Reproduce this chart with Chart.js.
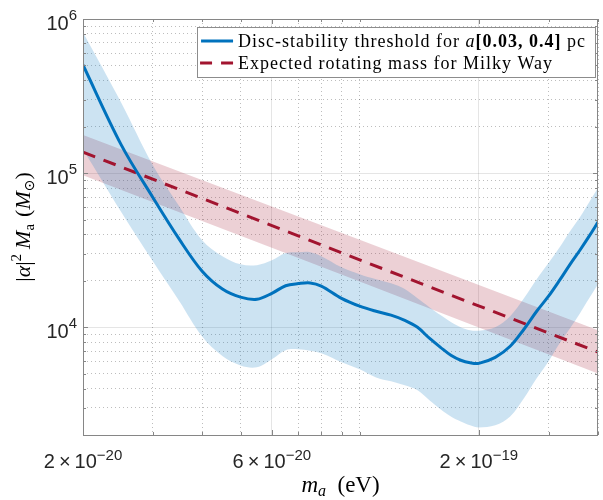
<!DOCTYPE html>
<html><head><meta charset="utf-8">
<script src="https://cdn.jsdelivr.net/npm/chart.js@4.4.1/dist/chart.umd.min.js"></script>
<style>html,body{margin:0;padding:0;background:#fff;}#wrap{width:603px;height:500px;}</style>
</head><body><div id="wrap"><canvas id="c" width="603" height="500"></canvas></div>
<script>
// axion mass m_a (eV)
const massEV = [2e-20,2.5e-20,3e-20,3.5e-20,4e-20,4.5e-20,5e-20,5.5e-20,6e-20,6.5e-20,7e-20,7.5e-20,8e-20,9e-20,1e-19,1.1e-19,1.2e-19,1.3e-19,1.4e-19,1.5e-19,1.6e-19,1.7e-19,1.8e-19,1.9e-19,2e-19,2.2e-19,2.4e-19,2.6e-19,2.8e-19,3e-19,3.2e-19,3.4e-19,3.6e-19,3.8e-19,4e-19];
// disc-stability threshold (solid blue) and its band
const thresholdMass = [5.03e5,1.52e5,6.98e4,3.73e4,2.31e4,1.77e4,1.57e4,1.52e4,1.66e4,1.86e4,1.92e4,1.94e4,1.85e4,1.54e4,1.37e4,1.27e4,1.20e4,1.11e4,1.0e4,8.49e3,7.41e3,6.58e3,6.11e3,5.88e3,5.83e3,6.38e3,7.53e3,9.71e3,1.27e4,1.59e4,2.02e4,2.56e4,3.16e4,3.90e4,4.81e4];
const thresholdUpper = [8.2e5,2.85e5,1.13e5,6.1e4,3.67e4,2.89e4,2.56e4,2.53e4,2.72e4,3.03e4,3.07e4,3.07e4,2.89e4,2.45e4,2.21e4,2.05e4,1.93e4,1.77e4,1.54e4,1.35e4,1.20e4,1.08e4,1.0e4,9.57e3,9.5e3,1.0e4,1.18e4,1.54e4,2.05e4,2.61e4,3.30e4,4.2e4,5.18e4,6.48e4,8.0e4];
const thresholdLower = [1.43e5,5.58e4,2.69e4,1.48e4,8.7e3,6.5e3,5.65e3,5.5e3,6.2e3,7.1e3,7.2e3,7.05e3,6.78e3,5.93e3,5.34e3,4.73e3,4.46e3,4.2e3,3.9e3,3.36e3,2.94e3,2.64e3,2.45e3,2.31e3,2.24e3,2.31e3,2.64e3,3.46e3,4.67e3,6.0e3,7.87e3,9.86e3,1.23e4,1.54e4,1.9e4];
// expected rotating mass for the Milky Way (dashed red) and its band
const expectedMassEV = [2e-20,1e-19,4e-19];
const expectedMass = [1.37e5,2.74e4,6.9e3];
const expectedUpper = [1.77e5,3.69e4,9.57e3];
const expectedLower = [9.7e4,1.98e4,5.02e3];
// ticks
const xTickValues = [2e-20,3e-20,4e-20,5e-20,6e-20,7e-20,8e-20,9e-20,1e-19,2e-19,3e-19,4e-19];
const xTickLabels = ['2×10^−20','','','','6×10^−20','','','','','2×10^−19','',''];
const yTickValues = [2e3,3e3,4e3,5e3,6e3,7e3,8e3,9e3,1e4,2e4,3e4,4e4,5e4,6e4,7e4,8e4,9e4,1e5,2e5,3e5,4e5,5e5,6e5,7e5,8e5,9e5,1e6];
const yTickLabels = ['','','','','','','','','10^4','','','','','','','','','10^5','','','','','','','','','10^6'];
const seriesLabels = ['Disc-stability threshold for a[0.03, 0.4] pc','Expected rotating mass for Milky Way'];
const xTitle = 'm_a (eV)';
const yTitle = '|α|^2 M_a (M_⊙)';

const pts = (xs, ys) => xs.map((x, i) => ({x, y: ys[i]}));
const BLUE = '#0072BD', RED = '#A2142F';
const AXIS = '#868686';
const SANS = '"Liberation Sans", Arial, Helvetica, sans-serif';
const SERIF = '"Liberation Serif", "DejaVu Serif", serif';

function drawSegs(ctx, segs, x, y, align) {
  let w = 0;
  segs.forEach(s => { ctx.font = s.f; s.w = ctx.measureText(s.t).width + (s.gap || 0); w += s.w; });
  let cx = align === 'center' ? x - w / 2 : align === 'right' ? x - w : x;
  segs.forEach(s => { ctx.font = s.f; ctx.fillText(s.t, cx, y + (s.dy || 0)); cx += s.w; });
}
function powerSegs(label) {
  const [base, exp] = label.split('^');
  return [
    {t: base.replace('×', '\u2009×\u2009'), f: `20px ${SANS}`},
    {t: exp, f: `15px ${SANS}`, dy: -8}
  ];
}

const decorPlugin = {
  id: 'decor',
  afterDatasetsDraw(chart) {
    const {ctx, chartArea: a, scales} = chart;
    ctx.save();
    // frame
    ctx.strokeStyle = AXIS; ctx.lineWidth = 1;
    ctx.strokeRect(Math.round(a.left) + 0.5, Math.round(a.top) + 0.5, Math.round(a.right - a.left) - 1, Math.round(a.bottom - a.top));
    // inward ticks
    ctx.beginPath();
    scales.x.ticks.forEach((t, i) => {
      const p = Math.round(scales.x.getPixelForValue(t.value)) + 0.5;
      const len = xTickLabels[i] ? 5 : 3;
      ctx.moveTo(p, a.bottom); ctx.lineTo(p, a.bottom - len);
      ctx.moveTo(p, a.top); ctx.lineTo(p, a.top + len);
    });
    scales.y.ticks.forEach((t, i) => {
      const p = Math.round(scales.y.getPixelForValue(t.value)) + 0.5;
      const len = yTickLabels[i] ? 5 : 3;
      ctx.moveTo(a.left, p); ctx.lineTo(a.left + len, p);
      ctx.moveTo(a.right, p); ctx.lineTo(a.right - len, p);
    });
    ctx.stroke();

    // tick labels
    ctx.fillStyle = '#262626'; ctx.textBaseline = 'alphabetic'; ctx.textAlign = 'left';
    scales.x.ticks.forEach((t, i) => {
      if (!xTickLabels[i]) return;
      drawSegs(ctx, powerSegs(xTickLabels[i]), scales.x.getPixelForValue(t.value), a.bottom + 33, 'center');
    });
    scales.y.ticks.forEach((t, i) => {
      if (!yTickLabels[i]) return;
      const s = powerSegs(yTickLabels[i]); s[1].dy = -10;
      drawSegs(ctx, s, a.left - 6, scales.y.getPixelForValue(t.value) + 11, 'right');
    });

    // axis titles
    ctx.fillStyle = '#000';
    const xt = xTitle.match(/^(\w)_(\w)(.*)$/);
    drawSegs(ctx, [
      {t: xt[1], f: `italic 23px ${SERIF}`},
      {t: xt[2], f: `italic 16px ${SERIF}`, dy: 4},
      {t: xt[3].replace(' ', '\u2002'), f: `23px ${SERIF}`}
    ], (a.left + a.right) / 2, 492, 'center');
    ctx.save();
    ctx.translate(25, (a.top + a.bottom) / 2);
    ctx.rotate(-Math.PI / 2);
    drawSegs(ctx, [
      {t: '|', f: `22px ${SERIF}`},
      {t: 'α', f: `italic 22px ${SERIF}`},
      {t: '|', f: `22px ${SERIF}`},
      {t: '2', f: `15px ${SERIF}`, dy: -9, gap: 5},
      {t: 'M', f: `italic 22px ${SERIF}`},
      {t: 'a', f: `15px ${SERIF}`, dy: 4, gap: 7},
      {t: '(', f: `22px ${SERIF}`},
      {t: 'M', f: `italic 22px ${SERIF}`},
      {t: '⊙', f: `14px "DejaVu Sans", ${SERIF}`, dy: 4},
      {t: ')', f: `22px ${SERIF}`}
    ], 0, 5, 'center');
    ctx.restore();

    // legend
    const size = 18;
    ctx.letterSpacing = '1px';
    const segs0 = (() => {
      const s = chart.data.datasets[0].label;
      const m = s.match(/^(.*for )(a)(\[[^\]]*\])(.*)$/);
      if (!m) return [{t: s, f: `${size}px ${SERIF}`}];
      return [{t: m[1], f: `${size}px ${SERIF}`}, {t: m[2], f: `italic ${size}px ${SERIF}`}, {t: m[3], f: `bold ${size}px ${SERIF}`}, {t: m[4], f: `${size}px ${SERIF}`}];
    })();
    const segs1 = [{t: chart.data.datasets[1].label, f: `${size}px ${SERIF}`}];
    const widthOf = segs => segs.reduce((w, s) => { ctx.font = s.f; return w + ctx.measureText(s.t).width; }, 0);
    const tw = Math.max(widthOf(segs0), widthOf(segs1));
    const right = a.right - 3, top = a.top + 8;
    const left = right - (tw + 50);
    const bottom = top + 50;
    ctx.fillStyle = '#fff';
    ctx.fillRect(left, top, right - left, bottom - top);
    ctx.strokeStyle = '#8c8c8c'; ctx.lineWidth = 1;
    ctx.strokeRect(Math.round(left) + 0.5, Math.round(top) + 0.5, Math.round(right - left), bottom - top);
    const rows = [top + 14, top + 36];
    ctx.lineWidth = 3;
    ctx.strokeStyle = BLUE; ctx.setLineDash([]);
    ctx.beginPath(); ctx.moveTo(left + 4, rows[0]); ctx.lineTo(left + 36, rows[0]); ctx.stroke();
    ctx.strokeStyle = RED; ctx.setLineDash([12, 9]);
    ctx.beginPath(); ctx.moveTo(left + 3, rows[1]); ctx.lineTo(left + 37, rows[1]); ctx.stroke();
    ctx.setLineDash([]);
    ctx.fillStyle = '#000'; ctx.textBaseline = 'middle';
    [segs0, segs1].forEach((segs, r) => drawSegs(ctx, segs, left + 41, rows[r] + 1, 'left'));
    ctx.letterSpacing = '0px';
    ctx.restore();
  }
};

new Chart(document.getElementById('c'), {
  type: 'line',
  data: {
    datasets: [
      {label: seriesLabels[0], data: pts(massEV, thresholdMass), borderColor: BLUE, borderWidth: 3, pointRadius: 0, tension: 0.35, fill: false},
      {label: seriesLabels[1], data: pts(expectedMassEV, expectedMass), borderColor: RED, borderWidth: 3, borderDash: [13, 9], pointRadius: 0, tension: 0, fill: false},
      {label: 'threshold band upper', data: pts(massEV, thresholdUpper), borderWidth: 0, pointRadius: 0, tension: 0.35, backgroundColor: 'rgba(0,114,189,0.2)', fill: '+1'},
      {label: 'threshold band lower', data: pts(massEV, thresholdLower), borderWidth: 0, pointRadius: 0, tension: 0.35, fill: false},
      {label: 'expected band upper', data: pts(expectedMassEV, expectedUpper), borderWidth: 0, pointRadius: 0, backgroundColor: 'rgba(162,20,47,0.2)', fill: '+1'},
      {label: 'expected band lower', data: pts(expectedMassEV, expectedLower), borderWidth: 0, pointRadius: 0, fill: false}
    ]
  },
  options: {
    responsive: false,
    animation: false,
    devicePixelRatio: 1,
    layout: {padding: {top: 19, right: 5, left: 0, bottom: 0}},
    plugins: {legend: {display: false}, tooltip: {enabled: false}},
    scales: {
      x: {
        type: 'logarithmic', min: 2e-20, max: 4e-19,
        afterBuildTicks: s => { s.ticks = xTickValues.map(v => ({value: v})); },
        afterFit: s => { s.height = 65; },
        ticks: {display: false, autoSkip: false},
        grid: {drawTicks: false, lineWidth: 1, color: c => (c.tick && xTickLabels[c.index]) ? 'rgba(0,0,0,0.10)' : 'rgba(0,0,0,0.26)'},
        border: {display: false, dash: c => (c.tick && xTickLabels[c.index]) ? [] : [1, 3]}
      },
      y: {
        type: 'logarithmic', min: 2e3, max: 1e6,
        afterBuildTicks: s => { s.ticks = yTickValues.map(v => ({value: v})); },
        afterFit: s => { s.width = 83; },
        ticks: {display: false, autoSkip: false},
        grid: {drawTicks: false, lineWidth: 1, color: c => (c.tick && yTickLabels[c.index]) ? 'rgba(0,0,0,0.10)' : 'rgba(0,0,0,0.26)'},
        border: {display: false, dash: c => (c.tick && yTickLabels[c.index]) ? [] : [1, 3]}
      }
    }
  },
  plugins: [decorPlugin]
});
</script>
</body></html>
